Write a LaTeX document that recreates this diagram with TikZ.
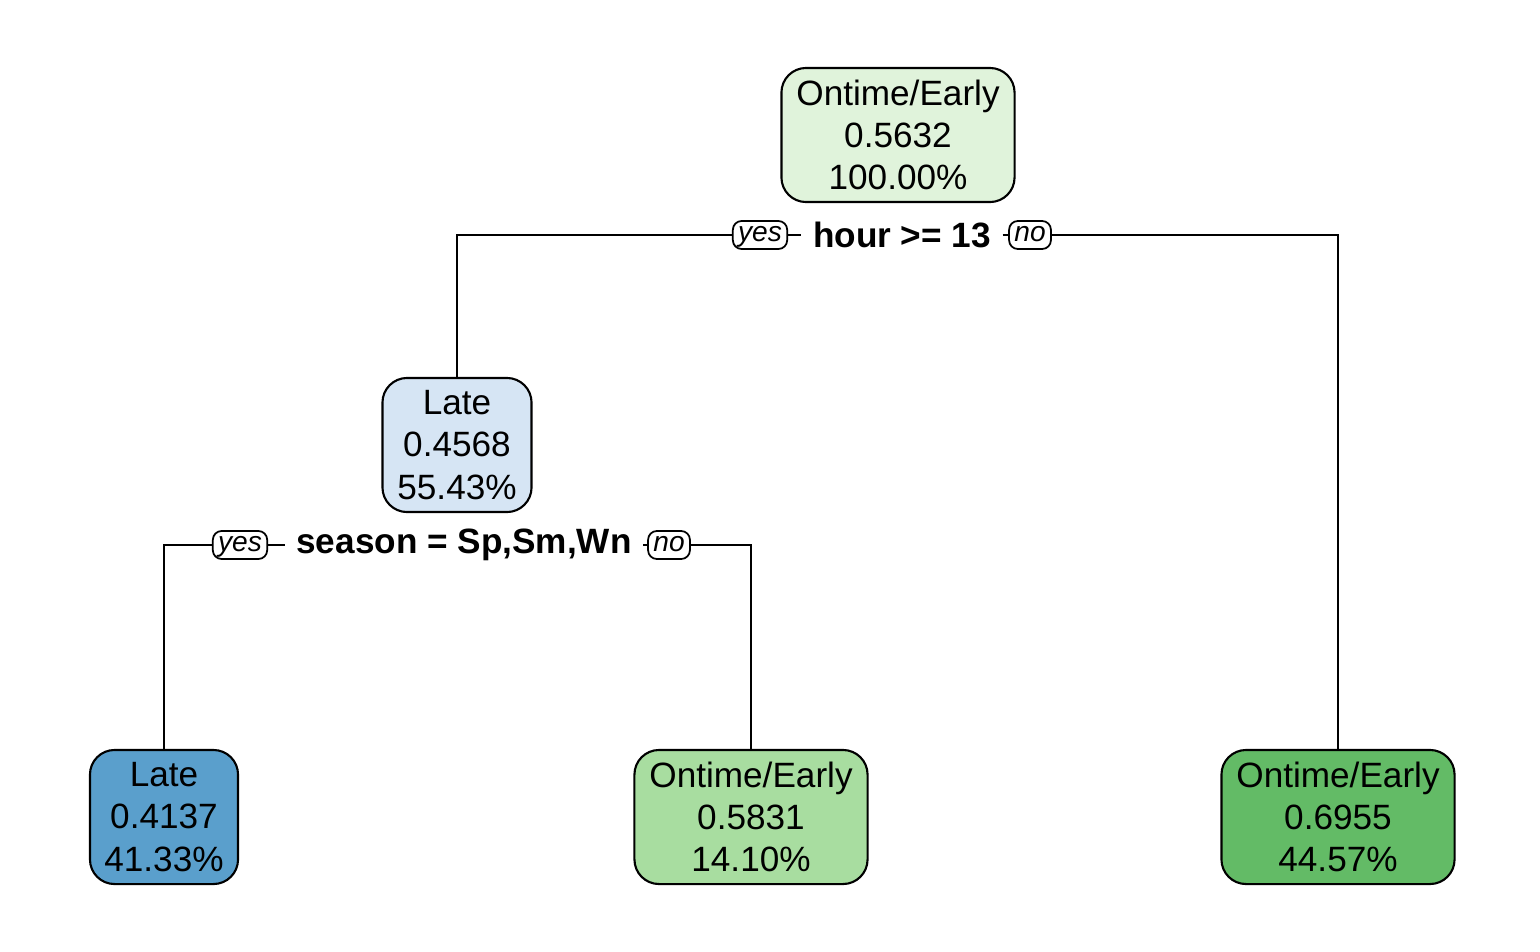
\documentclass[tikz,border=0pt]{standalone}
\usepackage{fontspec}
\setmainfont{Liberation Sans}
\usetikzlibrary{positioning}
\definecolor{rootfill}{HTML}{E0F3DB}
\definecolor{latefill}{HTML}{D6E5F4}
\definecolor{llatefill}{HTML}{5A9FCC}
\definecolor{learlyfill}{HTML}{A8DDA0}
\definecolor{rearlyfill}{HTML}{63BB66}
\tikzset{
box/.style={draw, line width=0.6pt, rounded corners=7pt, align=center, minimum height=1.34cm, inner sep=0pt, font=\fontsize{10}{12}\selectfont}, % sets the properties for each tree box
split/.style={fill=white, inner xsep=3pt, inner ysep=1pt, font=\fontsize{10}{12}\selectfont\bfseries}, % the split rule on the branch line
tag/.style={draw, fill=white, line width=0.5pt, rounded corners=2.5pt, inner xsep=1.5pt, inner ysep=0pt, text height=5.6pt, text depth=1.8pt, minimum height=0.28cm, font=\fontsize{8}{9}\selectfont\itshape}, % yes/no labels
}

\begin{document}
\begin{tikzpicture}[x=0.01cm, y=-0.01cm, line width=0.6pt]
\useasboundingbox (0,0) rectangle (1540,951);
%ROOT,LATE,LLATE,LEARLY,REARLY
\node[box, fill=rootfill, minimum width=2.33cm] (ROOT) at (898,135) {Ontime/Early\\0.5632\\100.00\%};
\node[box, fill=latefill, minimum width=1.49cm] (LATE) at (457,445) {Late\\0.4568\\55.43\%};
\node[box, fill=llatefill, minimum width=1.48cm] (LLATE) at (164,817) {Late\\0.4137\\41.33\%};
\node[box, fill=learlyfill, minimum width=2.33cm] (LEARLY) at (751,817) {Ontime/Early\\0.5831\\14.10\%};
\node[box, fill=rearlyfill, minimum width=2.33cm] (REARLY) at (1338,817) {Ontime/Early\\0.6955\\44.57\%};
\node[split] (HOUR) at (902,235) {hour >= 13};
\node[split] (SEASON) at (464,545) {season = Sp,Sm,Wn};
\draw (LATE.north) |- (HOUR.west);
\draw (HOUR.east) -| (REARLY.north);
\draw (LLATE.north) |- (SEASON.west);
\draw (SEASON.east) -| (LEARLY.north);
\node[tag] (YES1) at (760,235) {yes};
\node[tag] (NO1) at (1030,235) {no};
\node[tag] (YES2) at (240,545) {yes};
\node[tag] (NO2) at (669,545) {no};
\end{tikzpicture}
\end{document}
